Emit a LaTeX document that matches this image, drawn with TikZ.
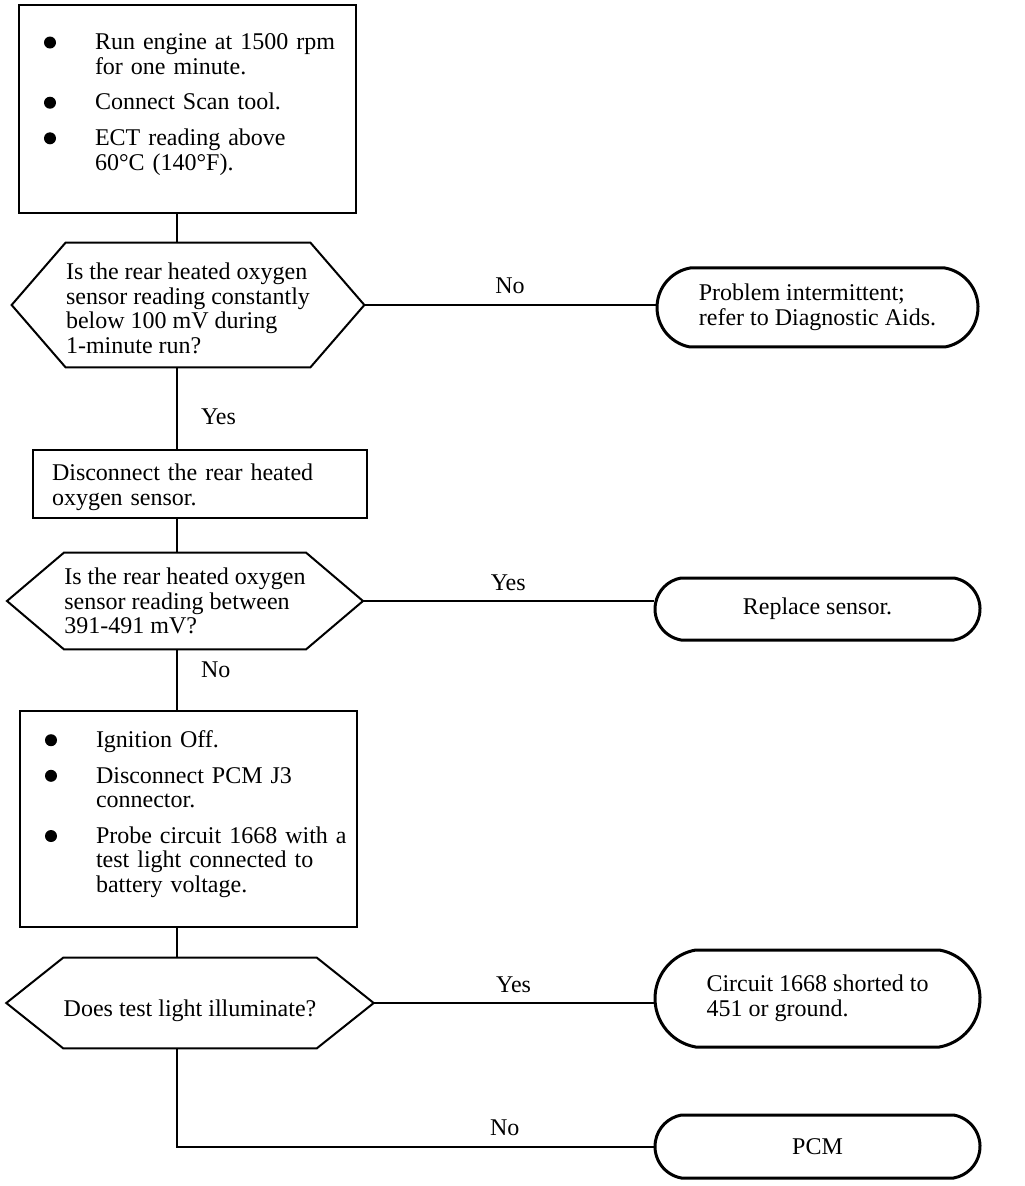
\documentclass[tikz,border=0pt]{standalone}
\usepackage{fontspec}
\setmainfont{Liberation Serif}
\usetikzlibrary{shapes.misc}
\tikzset{
every node/.style={font=\fontsize{12pt}{12.3pt}\selectfont}, % same type size everywhere
box/.style={draw, line width=1pt, align=left, inner ysep=0pt}, % plain action boxes
question/.style={align=left, inner sep=0pt}, % text of a decision, its frame comes from \hexframe
result/.style={draw, rounded rectangle, rounded rectangle arc length=160, line width=1.5pt, align=left, inner sep=0pt}, % end ovals
lab/.style={above, inner sep=0pt, text depth=0pt, yshift=5pt}, % Yes/No on a level line
vlab/.style={anchor=west, inner sep=0pt, xshift=11.5pt}, % Yes/No beside the spine
link/.style={line width=1pt},
}
% frame of a decision node: name, length of the points
\newcommand{\hexframe}[2]{%
  \draw[link] (#1.north west) -- (#1.north east) -- ([xshift=#2]#1.east) coordinate (#1-tip)
    -- (#1.south east) -- (#1.south west) -- ([xshift=-#2]#1.west) -- cycle;}
\newcommand{\bul}{\tikz[baseline=-3.6pt]{\fill (0pt,0pt) circle (3pt);}}

\begin{document}
\begin{tikzpicture}[x=0.5pt, y=-0.5pt]
            \useasboundingbox (0,0) rectangle (1024,1186);
            \coordinate (spine) at (177,0);

            \node[box, inner xsep=12.5pt, text width=143.5pt, minimum height=104pt] (prep) at (187.5,109)
                {\begin{tabular}{@{}p{25.5pt}@{}l@{}}
                 \bul & Run engine at 1500 rpm\\
                      & for one minute.\\[5.5pt]
                 \bul & Connect Scan tool.\\[5.5pt]
                 \bul & ECT reading above\\
                      & 60°C (140°F).\\[4pt]
                 \end{tabular}};

            \node[question, minimum width=120pt, minimum height=62pt] (low) at (188,305)
                {\rule{0pt}{11.5pt}Is the rear heated oxygen\\sensor reading constantly\\below 100 mV during\\1-minute run?};
            \hexframe{low}{27pt}
            \node[result, minimum width=160.5pt, minimum height=39.5pt] (intermit) at (817.5,307.5)
                {Problem intermittent;\\refer to Diagnostic Aids.};

            \node[box, inner xsep=9.5pt, text width=148pt, minimum height=34pt] (unplug) at (200,484)
                {\rule{0pt}{11.5pt}Disconnect the rear heated\\oxygen sensor.};

            \node[question, minimum width=120pt, minimum height=48pt] (range) at (185,601)
                {Is the rear heated oxygen\\sensor reading between\\391-491 mV?};
            \hexframe{range}{28.5pt}
            \node[result, minimum width=162.5pt, minimum height=31pt] (replace) at (817.5,609)
                {Replace sensor.};

            \node[box, inner xsep=12.5pt, text width=143.5pt, minimum height=108pt] (probe) at (188.5,819)
                {\begin{tabular}{@{}p{25.5pt}@{}l@{}}
                 \bul & Ignition Off.\\[5.5pt]
                 \bul & Disconnect PCM J3\\
                      & connector.\\[5.5pt]
                 \bul & Probe circuit 1668 with a\\
                      & test light connected to\\
                      & battery voltage.\\[4pt]
                 \end{tabular}};

            \node[question, minimum width=122pt, minimum height=45pt] (lamp) at (190,1003)
                {\rule{0pt}{16.5pt}Does test light illuminate?};
            \hexframe{lamp}{28.5pt}
            \node[result, minimum width=162.5pt, minimum height=48.5pt] (short) at (817.5,998.5)
                {Circuit 1668 shorted to\\451 or ground.};
            \node[result, minimum width=162.5pt, minimum height=31.5pt] (pcm) at (817.5,1146.5)
                {PCM};

            \draw[link] (prep.south -| spine) -- (low.north -| spine);
            \draw[link] (low-tip) -- node[lab]{No} (low-tip -| intermit.west);
            \draw[link] (low.south -| spine) -- node[vlab, pos=0.61]{Yes} (unplug.north -| spine);
            \draw[link] (unplug.south -| spine) -- (range.north -| spine);
            \draw[link] (range-tip) -- node[lab]{Yes} (range-tip -| replace.west);
            \draw[link] (range.south -| spine) -- node[vlab, pos=0.34]{No} (probe.north -| spine);
            \draw[link] (probe.south -| spine) -- (lamp.north -| spine);
            \draw[link] (lamp-tip) -- node[lab]{Yes} (lamp-tip -| short.west);
            \draw[link] (lamp.south -| spine) |- node[lab, pos=0.844]{No} (pcm.west);
        \end{tikzpicture}
\end{document}
